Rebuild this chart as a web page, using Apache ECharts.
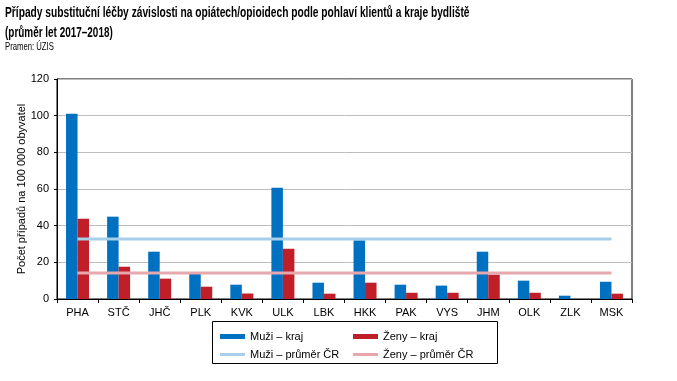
<!DOCTYPE html>
<html><head><meta charset="utf-8">
<script src="https://cdn.jsdelivr.net/npm/echarts@6/dist/echarts.min.js"></script>
<style>html,body{margin:0;padding:0;background:#fff}#c{width:677px;height:381px}</style>
</head><body><div id="c"></div>
<script>
const categories = ["PHA","STČ","JHČ","PLK","KVK","ULK","LBK","HKK","PAK","VYS","JHM","OLK","ZLK","MSK"];
const muziKraj = [101.0, 44.9, 25.8, 13.7, 7.8, 60.7, 8.9, 32.0, 7.8, 7.3, 25.8, 10.0, 1.8, 9.4];
const zenyKraj = [43.8, 17.6, 11.1, 6.7, 3.0, 27.4, 2.9, 8.9, 3.4, 3.4, 13.3, 3.4, 0, 2.9];
const muziPrumer = [32.7, 32.7, 32.7, 32.7, 32.7, 32.7, 32.7, 32.7, 32.7, 32.7, 32.7, 32.7, 32.7, 32.7];
const zenyPrumer = [14.2, 14.2, 14.2, 14.2, 14.2, 14.2, 14.2, 14.2, 14.2, 14.2, 14.2, 14.2, 14.2, 14.2];
const yTicks = [0, 20, 40, 60, 80, 100, 120];
const titleLines = ['Případy substituční léčby závislosti na opiátech/opioidech podle pohlaví klientů a kraje bydliště', '(průměr let 2017–2018)'];
const sourceText = 'Pramen: ÚZIS';

const F = "Liberation Sans, Arial, sans-serif";
const chart = echarts.init(document.getElementById('c'));
const legendBase = {orient:'horizontal', itemWidth:25, textStyle:{fontFamily:F, fontSize:11, color:'#000'}, itemGap:0, selectedMode:false, padding:0};
chart.setOption({
  animation:false,
  textStyle:{fontFamily:F},
  grid:{left:57, right:45, top:79, bottom:82, show:true, borderColor:'#000', borderWidth:1},
  xAxis:{type:'category', data:categories, boundaryGap:true,
    axisLine:{lineStyle:{color:'#000'}}, axisTick:{show:true, length:4, lineStyle:{color:'#000'}},
    axisLabel:{color:'#000', fontSize:11, margin:8, fontFamily:F}},
  yAxis:{type:'value', min:0, max:120, interval:20,
    name:'Počet případů na 100 000 obyvatel', nameLocation:'middle', nameGap:30, nameRotate:90, nameMoveOverlap:false,
    nameTextStyle:{color:'#000', fontSize:11, fontFamily:F},
    axisLine:{show:true, lineStyle:{color:'#000'}}, axisTick:{show:true, length:3, lineStyle:{color:'#000'}},
    axisLabel:{color:'#000', fontSize:11, margin:8, fontFamily:F, formatter:v=>yTicks.includes(v)?String(v):''},
    splitLine:{lineStyle:{color:'#bdbdbd'}}},
  legend:[
    Object.assign({}, legendBase, {left:220, top:331, itemHeight:5, data:[{name:'Muži – kraj', icon:'rect'}]}),
    Object.assign({}, legendBase, {left:353, top:331, itemHeight:5, data:[{name:'Ženy – kraj', icon:'rect'}]}),
    Object.assign({}, legendBase, {left:220, top:349, itemHeight:3, data:[{name:'Muži – průměr ČR', icon:'rect'}]}),
    Object.assign({}, legendBase, {left:353, top:349, itemHeight:3, data:[{name:'Ženy – průměr ČR', icon:'rect'}]})
  ],
  graphic:[
    {type:'text', x:5, y:13, scaleX:0.73, scaleY:1, style:{text:titleLines[0], font:'bold 14px '+F, fill:'#000', textVerticalAlign:'middle'}},
    {type:'text', x:5, y:33, scaleX:0.71, scaleY:1, style:{text:titleLines[1], font:'bold 14px '+F, fill:'#000', textVerticalAlign:'middle'}},
    {type:'text', x:5, y:47, scaleX:0.7, scaleY:1, style:{text:sourceText, font:'11px '+F, fill:'#000', textVerticalAlign:'middle'}},
    {type:'rect', shape:{x:212.5, y:321.5, width:285, height:42}, style:{fill:'none', stroke:'#000', lineWidth:1}}
  ],
  series:[
    {name:'Muži – kraj', type:'bar', data:muziKraj, barGap:'0%', barCategoryGap:'44%', itemStyle:{color:'#0070c0'}},
    {name:'Ženy – kraj', type:'bar', data:zenyKraj, itemStyle:{color:'#c01e28'}},
    {name:'Muži – průměr ČR', type:'line', data:muziPrumer, symbol:'none', z:5, lineStyle:{color:'#a8cfea', width:3}, itemStyle:{color:'#a8cfea'}},
    {name:'Ženy – průměr ČR', type:'line', data:zenyPrumer, symbol:'none', z:5, lineStyle:{color:'#e6a8ad', width:3}, itemStyle:{color:'#e6a8ad'}}
  ]
});
</script></body></html>
